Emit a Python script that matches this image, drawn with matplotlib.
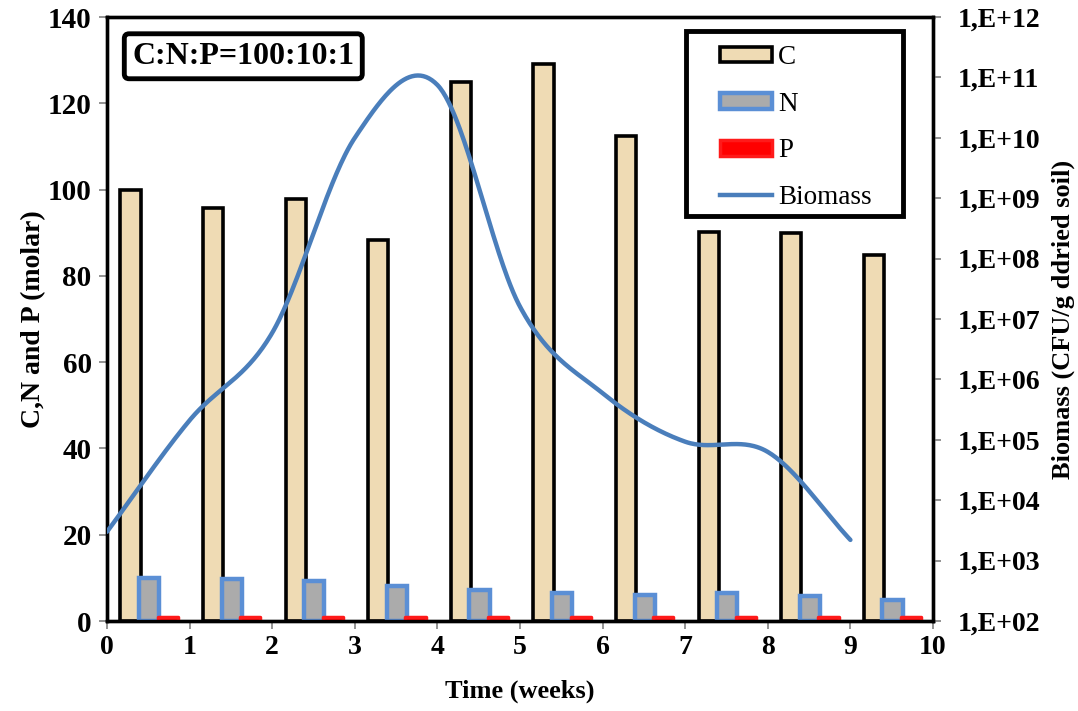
import numpy as np
import matplotlib
matplotlib.use("Agg")
import matplotlib.pyplot as plt
from matplotlib.patches import Patch, Rectangle
from matplotlib.lines import Line2D
from matplotlib.ticker import FixedLocator, FixedFormatter

plt.rcParams['font.family'] = ['Liberation Serif', 'DejaVu Serif']

# ---------------- data ----------------
weeks = [0, 1, 2, 3, 4, 5, 6, 7, 8, 9]
C_vals = [100.0, 95.7, 97.9, 88.2, 124.9, 129.0, 112.4, 90.2, 89.9, 84.9]
N_vals = [10.0, 9.8, 9.2, 8.1, 7.1, 6.5, 6.1, 6.5, 5.9, 4.9]
P_vals = [1.0, 1.0, 1.0, 1.0, 1.0, 1.0, 1.0, 1.0, 1.0, 1.0]
biomass = [3.0e3, 2.1e5, 5.9e6, 1.0e10, 7.5e10, 1.6e7, 5.9e5, 9.3e4, 6.3e4, 2.2e3]
left_ticks = [0, 20, 40, 60, 80, 100, 120, 140]
x_ticks = [0, 1, 2, 3, 4, 5, 6, 7, 8, 9, 10]
right_exps = [2, 3, 4, 5, 6, 7, 8, 9, 10, 11, 12]
right_labels = ["1,E+%02d" % e for e in right_exps]

# ---------------- figure ----------------
W, H = 1078, 711
fig = plt.figure(figsize=(W/100, H/100), dpi=100)
ax = fig.add_axes([107/W, 1-621/H, (933-107)/W, (621-17)/H])
ax2 = ax.twinx()

w = 0.245
xs = np.array(weeks, dtype=float)
c_col = '#EFDBB4'
n_face = '#ABABAB'
n_edge = '#5B8FD5'
ax.bar(xs + 0.285, C_vals, width=w, color=c_col, edgecolor='black', linewidth=2.6, zorder=3)
ax.bar(xs + 0.51, N_vals, width=w, color=n_face, edgecolor=n_edge, linewidth=3.2, zorder=4)
ax.bar(xs + 0.735, P_vals, width=w, color='#FF0000', edgecolor='#FF1A1A', linewidth=2.5, zorder=5,
       joinstyle='round')

ax.set_xlim(0, 10)
ax.set_ylim(0, 140)
ax.yaxis.set_major_locator(FixedLocator(left_ticks))
ax.xaxis.set_major_locator(FixedLocator(x_ticks))

# smooth biomass curve (Catmull-Rom in log space)
lb = np.log10(np.array(biomass))
n = len(xs)
px, py = [], []
for i in range(n - 1):
    p0 = lb[i]; p1 = lb[i + 1]
    m0 = (lb[i + 1] - lb[i - 1]) / 2 if i > 0 else (lb[1] - lb[0])
    m1 = (lb[i + 2] - lb[i]) / 2 if i + 2 < n else (lb[-1] - lb[-2])
    t = np.linspace(0, 1, 60)
    h00 = 2*t**3 - 3*t**2 + 1
    h10 = t**3 - 2*t**2 + t
    h01 = -2*t**3 + 3*t**2
    h11 = t**3 - t**2
    px.extend(xs[i] + t)
    py.extend(h00*p0 + h10*m0 + h01*p1 + h11*m1)
ax2.plot(px, 10**np.array(py), color='#4A7EBB', linewidth=3.2, solid_capstyle='round', zorder=6)
ax2.set_yscale('log')
ax2.set_ylim(1e2, 1e12)
ax2.yaxis.set_major_locator(FixedLocator([10.0**e for e in right_exps]))
ax2.yaxis.set_major_formatter(FixedFormatter(right_labels))
ax2.yaxis.set_minor_locator(FixedLocator([]))

for a in (ax, ax2):
    for s in a.spines.values():
        s.set_linewidth(2.4)
        s.set_color('black')
ax.tick_params(axis='x', direction='out', length=6, width=1.2, color='#808080',
               labelsize=20, pad=4)
ax.tick_params(axis='y', direction='out', length=6, width=1.2, color='#808080',
               labelsize=21, pad=5)
ax2.tick_params(axis='y', direction='out', length=6, width=1.2, color='#808080',
                labelsize=20, pad=12)
for lab in ax.get_xticklabels() + ax.get_yticklabels() + ax2.get_yticklabels():
    lab.set_fontweight('bold')

ax.set_xlabel('Time (weeks)', fontsize=19, fontweight='bold', labelpad=14)
ax.set_ylabel('C,N and P (molar)', fontsize=20, fontweight='bold', labelpad=1)
ax2.set_ylabel('Biomass (CFU/g ddried soil)', fontsize=19, fontweight='bold', labelpad=8)

ax.patch.set_visible(False)
ax2.set_zorder(ax.get_zorder() + 1)
ax2.patch.set_visible(False)

# annotation box
ax.text(0.165, 0.935, 'C:N:P=100:10:1', transform=ax.transAxes, fontsize=23, fontweight='bold',
        ha='center', va='center',
        bbox=dict(boxstyle='round,pad=0.25,rounding_size=0.15', fc='white', ec='black', lw=3.5),
        zorder=10)

# legend frame (drawn separately) and legend entries
fig.patches.append(Rectangle((686/W, 1-216/H), (903-686)/W, (216-31)/H, transform=fig.transFigure,
                             fc='white', ec='black', lw=3.5, zorder=15))
handles = [Patch(facecolor=c_col, edgecolor='black', linewidth=2.6),
           Patch(facecolor=n_face, edgecolor=n_edge, linewidth=3.2),
           Patch(facecolor='#FF0000', edgecolor='#FF1A1A', linewidth=2.5),
           Line2D([0], [0], color='#4A7EBB', linewidth=3.2)]
leg = fig.legend(handles, ['C', 'N', 'P', 'Biomass'], loc='upper left',
                 bbox_to_anchor=(712/W, 1-37/H), fontsize=19.5, frameon=False,
                 handlelength=1.9, handleheight=0.5, handletextpad=0.25, labelspacing=0.8,
                 borderpad=0.3, borderaxespad=0)
leg.set_zorder(20)

fig.savefig('out.png', dpi=100)
